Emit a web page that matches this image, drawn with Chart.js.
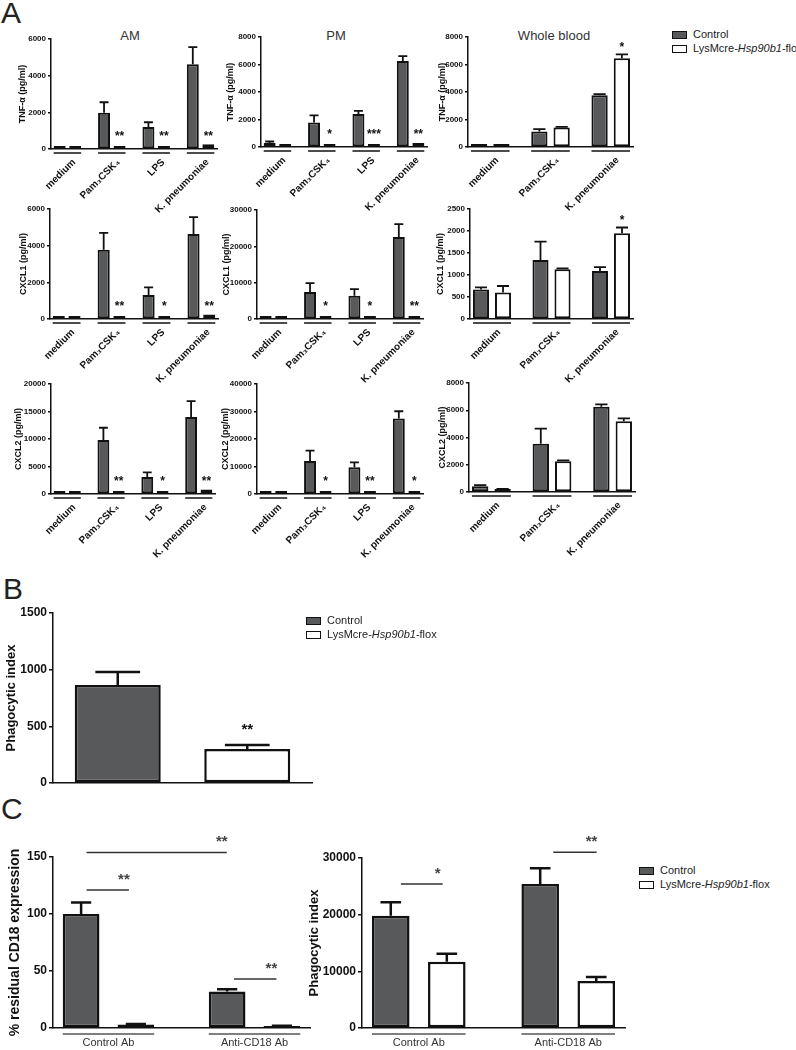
<!DOCTYPE html>
<html>
<head>
<meta charset="utf-8">
<script src="https://cdn.jsdelivr.net/npm/chart.js@4.4.1/dist/chart.umd.min.js"></script>
<style>
body { margin: 0; background: #fff; }
#page { position: relative; width: 796px; height: 1050px; overflow: hidden; font-family: "Liberation Sans", Arial, sans-serif; color: #222; }
#page canvas { position: absolute; }
.letter { position: absolute; font-size: 30px; line-height: 30px; color: #222; }
.title { position: absolute; font-size: 13px; line-height: 13px; color: #333; transform: translateX(-50%); white-space: nowrap; }
.legend { position: absolute; font-size: 11px; color: #222; z-index: 2; }
.legend div { height: 14px; line-height: 14px; white-space: nowrap; }
.sw { display: inline-block; width: 13px; height: 6px; border: 1px solid #111; margin-right: 6px; vertical-align: middle; background: #fff; }
.sw.dark { background: #58595b; }
.slant { position: absolute; width: 0; height: 0; z-index: 1; }
.slant span { position: absolute; right: 0; top: 0; white-space: nowrap; font-weight: bold; font-size: 10px; line-height: 10px; color: #111; transform-origin: 100% 0; transform: rotate(-45deg); }
</style>
</head>
<body>
<div id="page">
  <div class="letter" style="left:1px;top:-2px">A</div>
  <div class="letter" style="left:3px;top:574px">B</div>
  <div class="letter" style="left:1px;top:794px">C</div>

  <div class="title" style="left:130px;top:29px">AM</div>
  <div class="title" style="left:336px;top:29px">PM</div>
  <div class="title" style="left:554px;top:29px">Whole blood</div>

  <div class="legend" style="left:672px;top:27px">
    <div><span class="sw dark"></span>Control</div>
    <div><span class="sw"></span>LysMcre-<i>Hsp90b1</i>-flox</div>
  </div>
  <div class="legend" style="left:306px;top:613px">
    <div><span class="sw dark"></span>Control</div>
    <div><span class="sw"></span>LysMcre-<i>Hsp90b1</i>-flox</div>
  </div>
  <div class="legend" style="left:639px;top:863px">
    <div><span class="sw dark"></span>Control</div>
    <div><span class="sw"></span>LysMcre-<i>Hsp90b1</i>-flox</div>
  </div>
</div>

<script>
// categories
const stimuli = ['medium', 'Pam₃CSK₄', 'LPS', 'K. pneumoniae'];
const stimuliBlood = ['medium', 'Pam₃CSK₄', 'K. pneumoniae'];
const antibodies = ['Control Ab', 'Anti-CD18 Ab'];

// A - TNF-a (pg/ml)
const tnfAmControl = [80, 1980, 1200, 4620];
const tnfAmControlSem = [0, 570, 260, 940];
const tnfAmKo = [70, 60, 60, 260];
const tnfAmKoSem = [0, 0, 0, 0];
const tnfAmStars = ['', '**', '**', '**'];

const tnfPmControl = [290, 1780, 2400, 6260];
const tnfPmControlSem = [110, 520, 230, 350];
const tnfPmKo = [60, 50, 50, 290];
const tnfPmKoSem = [0, 0, 0, 0];
const tnfPmStars = ['', '*', '***', '**'];

const tnfWbControl = [80, 1120, 3760];
const tnfWbControlSem = [0, 180, 90];
const tnfWbKo = [80, 1420, 6450];
const tnfWbKoSem = [0, 40, 290];
const tnfWbStars = ['', '', '*'];

// A - CXCL1 (pg/ml)
const cxcl1AmControl = [80, 3780, 1310, 4640];
const cxcl1AmControlSem = [0, 920, 420, 920];
const cxcl1AmKo = [80, 150, 80, 250];
const cxcl1AmKoSem = [0, 0, 0, 0];
const cxcl1AmStars = ['', '**', '*', '**'];

const cxcl1PmControl = [100, 7450, 6400, 22600];
const cxcl1PmControlSem = [0, 2400, 1800, 3500];
const cxcl1PmKo = [100, 100, 100, 250];
const cxcl1PmKoSem = [0, 0, 0, 0];
const cxcl1PmStars = ['', '*', '*', '**'];

const cxcl1WbControl = [670, 1340, 1090];
const cxcl1WbControlSem = [50, 420, 90];
const cxcl1WbKo = [600, 1130, 1950];
const cxcl1WbKoSem = [150, 20, 130];
const cxcl1WbStars = ['', '', '*'];

// A - CXCL2 (pg/ml)
const cxcl2AmControl = [350, 9800, 3100, 14000];
const cxcl2AmControlSem = [0, 2250, 850, 2900];
const cxcl2AmKo = [350, 350, 300, 800];
const cxcl2AmKoSem = [0, 0, 0, 0];
const cxcl2AmStars = ['', '**', '*', '**'];

const cxcl2PmControl = [300, 12000, 9700, 27500];
const cxcl2PmControlSem = [0, 3800, 1800, 2600];
const cxcl2PmKo = [300, 300, 200, 700];
const cxcl2PmKoSem = [0, 0, 0, 0];
const cxcl2PmStars = ['', '*', '**', '*'];

const cxcl2WbControl = [420, 3550, 6250];
const cxcl2WbControlSem = [80, 1100, 180];
const cxcl2WbKo = [200, 2260, 5200];
const cxcl2WbKoSem = [30, 60, 200];
const cxcl2WbStars = ['', '', ''];

// B - phagocytic index (control, knockout)
const phagoValues = [865, 300];
const phagoSem = [115, 35];
const phagoStars = ['', '**'];

// C - % residual CD18 expression
const cd18Control = [100, 32];
const cd18ControlSem = [10, 2];
const cd18Ko = [3, 1.5];
const cd18KoSem = [0.5, 0.4];
// comparison brackets: from / to (category units), height (data units), label
const cd18BracketFrom = [-0.15, -0.15, 0.86];
const cd18BracketTo = [0.81, 0.14, 1.15];
const cd18BracketAt = [154, 121, 43];
const cd18BracketStars = ['**', '**', '**'];

// C - phagocytic index
const phagoAbControl = [19800, 25400];
const phagoAbControlSem = [2400, 2800];
const phagoAbKo = [11700, 8300];
const phagoAbKoSem = [1400, 700];
const phagoBracketFrom = [-0.12, 0.90];
const phagoBracketTo = [0.16, 1.19];
const phagoBracketAt = [25400, 31000];
const phagoBracketStars = ['*', '**'];

const DARK = '#58595b';
const INK = '#111';
const FONT = '"Liberation Sans", Arial, Helvetica, sans-serif';
Chart.defaults.font.family = FONT;
Chart.defaults.color = INK;

const page = document.getElementById('page');

// draws error bars, significance stars, group underlines and brackets
function marksPlugin(c) {
  return {
    id: 'marks',
    afterDatasetsDraw(chart) {
      const ctx = chart.ctx;
      const ys = chart.scales.y, xs = chart.scales.x, area = chart.chartArea;
      ctx.save();
      chart.data.datasets.forEach((ds, k) => {
        const meta = chart.getDatasetMeta(k);
        meta.data.forEach((bar, i) => {
          const v = ds.data[i].y;
          const e = ds.sem[i] || 0;
          let top = bar.y;
          if (e > 0) {
            top = Math.min(bar.y, ys.getPixelForValue(v + e));
            const cw = bar.width * c.cap / 2;
            ctx.strokeStyle = INK;
            ctx.lineWidth = c.errW;
            ctx.beginPath();
            ctx.moveTo(bar.x, bar.y);
            ctx.lineTo(bar.x, top);
            ctx.moveTo(bar.x - cw, top);
            ctx.lineTo(bar.x + cw, top);
            ctx.stroke();
          }
          const s = ds.stars && ds.stars[i];
          if (s) {
            let cy = top - c.starAbove;
            if (c.starBase != null) cy = Math.min(cy, area.bottom - c.starBase);
            ctx.fillStyle = INK;
            ctx.font = 'bold ' + c.starSize + 'px ' + FONT;
            ctx.textAlign = 'center';
            ctx.textBaseline = 'alphabetic';
            ctx.fillText(s, bar.x, cy + 0.57 * c.starSize);
          }
        });
      });

      if (c.underline) {
        ctx.strokeStyle = c.underline;
        ctx.lineWidth = 1.5;
        const y = area.bottom + c.ulOff;
        c.labels.forEach((_, i) => {
          let x0 = Infinity, x1 = -Infinity;
          chart.data.datasets.forEach((ds, k) => {
            const bar = chart.getDatasetMeta(k).data[i];
            if (!bar) return;
            x0 = Math.min(x0, bar.x - bar.width / 2);
            x1 = Math.max(x1, bar.x + bar.width / 2);
          });
          ctx.beginPath();
          ctx.moveTo(x0, y);
          ctx.lineTo(x1, y);
          ctx.stroke();
        });
      }

      if (c.brackets) {
        const b = c.brackets;
        b.from.forEach((f, i) => {
          const x0 = xs.getPixelForValue(f);
          const x1 = xs.getPixelForValue(b.to[i]);
          const y = ys.getPixelForValue(b.at[i]);
          ctx.strokeStyle = '#333';
          ctx.lineWidth = 1.5;
          ctx.beginPath();
          ctx.moveTo(x0, y);
          ctx.lineTo(x1, y);
          ctx.stroke();
          ctx.fillStyle = '#444';
          ctx.font = 'bold 15px ' + FONT;
          ctx.textAlign = 'center';
          ctx.textBaseline = 'alphabetic';
          ctx.fillText(b.stars[i], x1 - 5, y - 15 + 0.57 * 15);
        });
      }
      ctx.restore();
    }
  };
}

function makeChart(c) {
  const lh = c.titleSize * 1.2;
  const yw = Math.round(c.gap + lh / 2);
  const left = c.ax0 - yw;
  const top = c.top - c.padT;
  const w = c.ax1 - left + c.padR;
  const h = c.bot - c.top + c.padT + c.xh;
  const canvas = document.createElement('canvas');
  canvas.width = w;
  canvas.height = h;
  canvas.style.left = left + 'px';
  canvas.style.top = top + 'px';
  canvas.style.width = w + 'px';
  canvas.style.height = h + 'px';
  page.appendChild(canvas);

  const n = c.labels.length;
  const datasets = c.series.map(s => ({
    data: s.values.map((v, i) => ({ x: i, y: v })),
    sem: s.sem,
    stars: s.stars,
    backgroundColor: s.color,
    borderColor: INK,
    borderWidth: c.barBorder,
    borderSkipped: false,
    minBarLength: c.minBar,
    categoryPercentage: c.catPct,
    barPercentage: c.barPct
  }));

  const chart = new Chart(canvas, {
    type: 'bar',
    data: { datasets },
    options: {
      responsive: false,
      animation: false,
      devicePixelRatio: 1,
      layout: { padding: { top: c.padT, right: c.padR, left: 0, bottom: 0 } },
      plugins: { legend: { display: false }, tooltip: { enabled: false } },
      scales: {
        x: {
          type: 'linear',
          bounds: 'data',
          offset: false,
          min: -c.pad,
          max: n - 1 + c.pad,
          grid: { display: false, drawTicks: false, offset: false },
          border: { display: true, color: INK, width: c.axisW },
          afterBuildTicks: s => { s.ticks = c.labels.map((_, i) => ({ value: i })); },
          ticks: {
            display: c.showX,
            autoSkip: false,
            maxRotation: 0,
            padding: c.xPad,
            color: c.xColor,
            font: c.xFont,
            callback: v => c.labels[v]
          },
          afterFit: s => {
            s.height = c.xh;
            s.paddingLeft = 0; s.paddingRight = 0; s.paddingTop = 0; s.paddingBottom = 0;
          }
        },
        y: {
          min: 0,
          max: c.max,
          grid: { drawOnChartArea: false, drawTicks: true, tickLength: c.tickLen, color: INK, lineWidth: c.axisW },
          border: { color: INK, width: c.axisW },
          ticks: { stepSize: c.step, padding: 2, font: { size: c.tickSize, weight: 'bold' }, callback: v => String(v) },
          title: { display: true, text: c.yTitle, padding: 0, font: { size: c.titleSize, weight: 'bold' } },
          afterFit: s => {
            s.width = yw;
            s.paddingLeft = 0; s.paddingRight = 0; s.paddingTop = 0; s.paddingBottom = 0;
          }
        }
      }
    },
    plugins: [marksPlugin(c)]
  });

  // 45 degree category labels: top-right corner just under the group centre
  if (c.slant) {
    const xs = chart.scales.x;
    c.labels.forEach((lab, i) => {
      const holder = document.createElement('div');
      holder.className = 'slant';
      holder.style.left = (left + xs.getPixelForValue(i) + 3) + 'px';
      holder.style.top = (top + chart.chartArea.bottom + 8) + 'px';
      const span = document.createElement('span');
      span.textContent = lab;
      holder.appendChild(span);
      page.appendChild(holder);
    });
  }
  return chart;
}

// panel A layout: small GraphPad-style panels
function panelA(box, yTitle, max, step, labels, ctrl, ctrlSem, ko, koSem, stars) {
  makeChart(Object.assign({
    yTitle, max, step, labels,
    series: [
      { values: ctrl, sem: ctrlSem, color: DARK },
      { values: ko, sem: koSem, stars: stars, color: '#ffffff' }
    ],
    padT: 8, padR: 4, xh: 12,
    pad: 0.37, catPct: labels.length === 4 ? 0.70 : 0.74, barPct: labels.length === 4 ? 0.77 : 0.73,
    barBorder: 2, minBar: 3, axisW: 1.5, tickLen: 3,
    tickSize: 8, titleSize: 9,
    showX: false, slant: true, xPad: 8, xColor: INK, xFont: { size: 10, weight: 'bold' },
    cap: 0.75, errW: 1.8,
    starSize: 12, starBase: 16, starAbove: 10,
    underline: INK, ulOff: 4
  }, box));
}

panelA({ ax0: 51, ax1: 217, top: 39, bot: 149, gap: 29 }, 'TNF-α (pg/ml)', 6000, 2000, stimuli,
  tnfAmControl, tnfAmControlSem, tnfAmKo, tnfAmKoSem, tnfAmStars);
panelA({ ax0: 261, ax1: 427, top: 37, bot: 147, gap: 31 }, 'TNF-α (pg/ml)', 8000, 2000, stimuli,
  tnfPmControl, tnfPmControlSem, tnfPmKo, tnfPmKoSem, tnfPmStars);
panelA({ ax0: 468, ax1: 633, top: 37, bot: 147, gap: 26 }, 'TNF-α (pg/ml)', 8000, 2000, stimuliBlood,
  tnfWbControl, tnfWbControlSem, tnfWbKo, tnfWbKoSem, tnfWbStars);

panelA({ ax0: 50, ax1: 218, top: 209, bot: 319, gap: 27 }, 'CXCL1 (pg/ml)', 6000, 2000, stimuli,
  cxcl1AmControl, cxcl1AmControlSem, cxcl1AmKo, cxcl1AmKoSem, cxcl1AmStars);
panelA({ ax0: 257, ax1: 423, top: 210, bot: 319, gap: 31 }, 'CXCL1 (pg/ml)', 30000, 10000, stimuli,
  cxcl1PmControl, cxcl1PmControlSem, cxcl1PmKo, cxcl1PmKoSem, cxcl1PmStars);
panelA({ ax0: 470, ax1: 633, top: 209, bot: 319, gap: 30 }, 'CXCL1 (pg/ml)', 2500, 500, stimuliBlood,
  cxcl1WbControl, cxcl1WbControlSem, cxcl1WbKo, cxcl1WbKoSem, cxcl1WbStars);

panelA({ ax0: 51, ax1: 215, top: 384, bot: 494, gap: 33 }, 'CXCL2 (pg/ml)', 20000, 5000, stimuli,
  cxcl2AmControl, cxcl2AmControlSem, cxcl2AmKo, cxcl2AmKoSem, cxcl2AmStars);
panelA({ ax0: 257, ax1: 423, top: 384, bot: 494, gap: 32 }, 'CXCL2 (pg/ml)', 40000, 10000, stimuli,
  cxcl2PmControl, cxcl2PmControlSem, cxcl2PmKo, cxcl2PmKoSem, cxcl2PmStars);
panelA({ ax0: 469, ax1: 635, top: 383, bot: 492, gap: 27 }, 'CXCL2 (pg/ml)', 8000, 2000, stimuliBlood,
  cxcl2WbControl, cxcl2WbControlSem, cxcl2WbKo, cxcl2WbKoSem, cxcl2WbStars);

// panel B
makeChart({
  ax0: 53, ax1: 312, top: 613, bot: 783, gap: 41,
  yTitle: 'Phagocytic index', max: 1500, step: 500, labels: ['', ''],
  series: [{ values: phagoValues, sem: phagoSem, stars: phagoStars, color: [DARK, '#ffffff'] }],
  padT: 8, padR: 4, xh: 6,
  pad: 0.5, catPct: 0.8, barPct: 0.83,
  barBorder: 2.5, minBar: 0, axisW: 1.5, tickLen: 4,
  tickSize: 12, titleSize: 13,
  showX: false, xPad: 0, xColor: INK, xFont: { size: 11 },
  cap: 0.52, errW: 2.5,
  starSize: 15, starBase: null, starAbove: 20,
  underline: null
});

// panel C
const cBase = {
  padT: 36, padR: 4, xh: 24,
  pad: 0.38, catPct: 0.75, barPct: 0.67,
  barBorder: 2.5, minBar: 2, axisW: 1.5, tickLen: 4,
  tickSize: 12,
  showX: true, xPad: 8, xColor: '#333', xFont: { size: 11 },
  cap: 0.55, errW: 2.5,
  starSize: 15, starBase: null, starAbove: 20,
  underline: '#555', ulOff: 6
};
makeChart(Object.assign({}, cBase, {
  ax0: 53, ax1: 310, top: 857, bot: 1028, gap: 38, titleSize: 14,
  yTitle: '% residual CD18 expression', max: 150, step: 50, labels: antibodies,
  series: [
    { values: cd18Control, sem: cd18ControlSem, color: DARK },
    { values: cd18Ko, sem: cd18KoSem, color: '#ffffff' }
  ],
  brackets: { from: cd18BracketFrom, to: cd18BracketTo, at: cd18BracketAt, stars: cd18BracketStars }
}));
makeChart(Object.assign({}, cBase, {
  ax0: 362, ax1: 625, top: 858, bot: 1028, gap: 47, titleSize: 13,
  yTitle: 'Phagocytic index', max: 30000, step: 10000, labels: antibodies,
  series: [
    { values: phagoAbControl, sem: phagoAbControlSem, color: DARK },
    { values: phagoAbKo, sem: phagoAbKoSem, color: '#ffffff' }
  ],
  brackets: { from: phagoBracketFrom, to: phagoBracketTo, at: phagoBracketAt, stars: phagoBracketStars }
}));
</script>
</body>
</html>
